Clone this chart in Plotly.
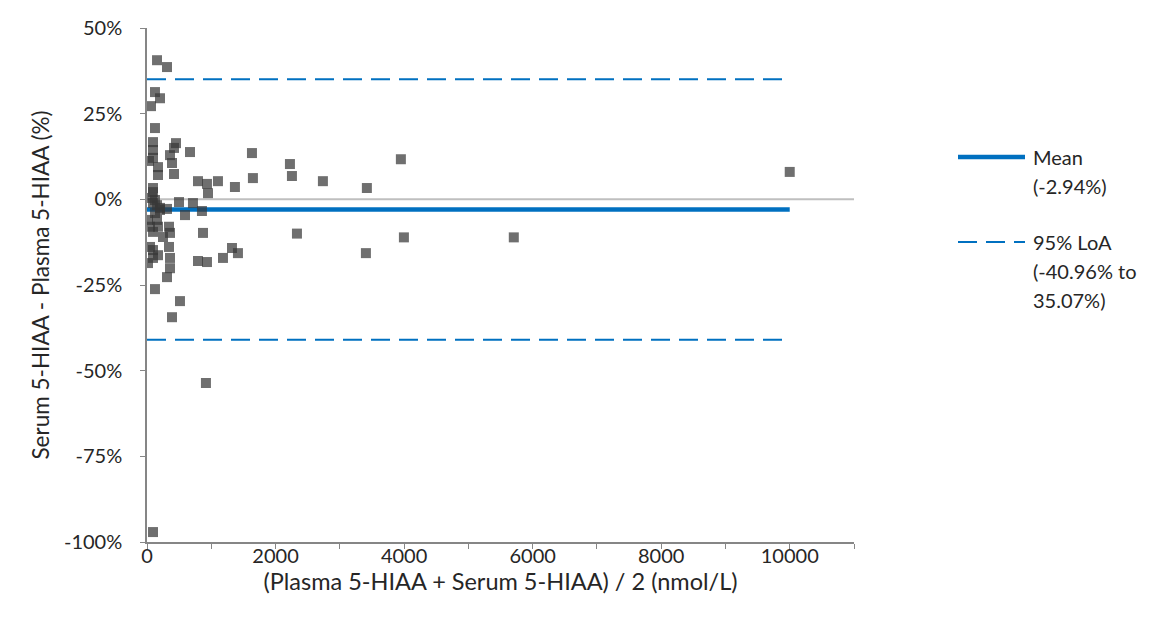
import plotly.graph_objects as go

# Bland-Altman data: mean of methods (nmol/L) and relative difference (%)
avg_nmol = [156, 311, 124, 202, 62, 124, 93, 451, 420, 93, 669, 358, 93, 31, 389, 171, 171, 420,
            793, 933, 1104, 949, 1368, 93, 93, 124, 156, 202, 311, 498, 715, 591, 855, 16, 156,
            47, 171, 342, 93, 358, 249, 871, 47, 93, 171, 342, 358, 93, 793, 933, 1182, 1322,
            1415, 16, 358, 311, 124, 513, 389, 917, 93, 1633, 2224, 1648, 2255, 2737, 3950,
            3421, 2333, 3406, 3997, 5707, 10000, 78, 93, 202, 124]
diff_pct = [40.6, 38.6, 31.3, 29.5, 27.2, 20.8, 16.7, 16.4, 15.0, 14.4, 13.8, 12.9, 12.1, 11.2,
            10.6, 9.4, 7.1, 7.4, 5.3, 4.5, 5.3, 1.8, 3.6, 3.3, 2.1, -0.2, -1.7, -3.1, -2.8, -0.8,
            -1.1, -4.6, -3.4, -6.0, -6.0, -8.0, -8.0, -8.0, -9.5, -9.8, -11.0, -9.8, -13.9,
            -14.8, -16.3, -13.9, -17.1, -17.1, -18.0, -18.3, -17.1, -14.2, -15.7, -18.6, -20.1,
            -22.7, -26.2, -29.7, -34.4, -53.6, -97.1, 13.5, 10.3, 6.2, 6.8, 5.3, 11.7, 3.3,
            -10.0, -15.7, -11.1, -11.1, 8.0, 0.4, -1.1, -2.5, -4.0]

line_x = [0, 10000]
mean_pct = -2.94
loa_upper = 35.07
loa_lower = -40.96
zero_x = [0, 11000]

y_ticks = [-100, -75, -50, -25, 0, 25, 50]
x_ticks = [0, 1000, 2000, 3000, 4000, 5000, 6000, 7000, 8000, 9000, 10000, 11000]
x_tick_text = ["0", "", "2000", "", "4000", "", "6000", "", "8000", "", "10000", ""]

legend_mean = ["Mean", "(-2.94%)"]
legend_loa = ["95% LoA", "(-40.96% to", "35.07%)"]

blue = "rgb(0,112,192)"
axis_grey = "rgb(134,134,134)"
text_col = "rgb(38,38,38)"
font_family = "Lato"
fs = 20

fig = go.Figure()

fig.add_trace(go.Scatter(x=zero_x, y=[0, 0], mode="lines",
                         line=dict(color="rgb(191,191,191)", width=2),
                         hoverinfo="skip", showlegend=False))
fig.add_trace(go.Scatter(x=line_x, y=[loa_upper, loa_upper], mode="lines",
                         line=dict(color=blue, width=2, dash="19px,9px"), showlegend=False))
fig.add_trace(go.Scatter(x=line_x, y=[loa_lower, loa_lower], mode="lines",
                         line=dict(color=blue, width=2, dash="19px,9px"), showlegend=False))
fig.add_trace(go.Scatter(x=line_x, y=[mean_pct, mean_pct], mode="lines",
                         line=dict(color=blue, width=4.5), showlegend=False))
fig.add_trace(go.Scatter(x=avg_nmol, y=diff_pct, mode="markers",
                         marker=dict(symbol="square", size=10, color="rgb(55,55,55)",
                                     opacity=0.72, line=dict(width=0)),
                         showlegend=False))

# Manual legend (paper coordinates of the plot area)
def px_to_paper_x(px):
    return (px - 147) / 707.0

def py_to_paper_y(py):
    return (542 - py) / 514.0

fig.add_shape(type="line", xref="paper", yref="paper",
              x0=px_to_paper_x(958), x1=px_to_paper_x(1025),
              y0=py_to_paper_y(157), y1=py_to_paper_y(157),
              line=dict(color=blue, width=4.5))
fig.add_shape(type="line", xref="paper", yref="paper",
              x0=px_to_paper_x(958), x1=px_to_paper_x(1025),
              y0=py_to_paper_y(242), y1=py_to_paper_y(242),
              line=dict(color=blue, width=2, dash="19px,9px"))

for i, t in enumerate(legend_mean):
    fig.add_annotation(xref="paper", yref="paper", x=px_to_paper_x(1031),
                       y=py_to_paper_y(157 + 29 * i), text=t, showarrow=False,
                       xanchor="left", yanchor="middle",
                       font=dict(family=font_family, size=fs, color=text_col))
for i, t in enumerate(legend_loa):
    fig.add_annotation(xref="paper", yref="paper", x=px_to_paper_x(1031),
                       y=py_to_paper_y(242 + 29 * i), text=t, showarrow=False,
                       xanchor="left", yanchor="middle",
                       font=dict(family=font_family, size=fs, color=text_col))

fig.update_layout(
    width=1158, height=643,
    margin=dict(l=147, r=304, t=28, b=101),
    paper_bgcolor="white", plot_bgcolor="white",
    font=dict(family=font_family, size=fs, color=text_col),
    xaxis=dict(range=[0, 11000], tickmode="array", tickvals=x_ticks, ticktext=x_tick_text,
               showgrid=False, zeroline=False, showline=True, linecolor=axis_grey,
               linewidth=1.5, ticks="outside", ticklen=5, tickcolor=axis_grey,
               tickfont=dict(family=font_family, size=fs, color=text_col),
               ticklabelstandoff=-10,
               title=dict(text="(Plasma 5-HIAA + Serum 5-HIAA) / 2 (nmol/L)", standoff=6,
                          font=dict(family=font_family, size=23.5, color=text_col)),
               fixedrange=True),
    yaxis=dict(range=[-100, 50], tickvals=y_ticks, ticktext=[f"{v}%" for v in y_ticks],
               showgrid=False, zeroline=False, showline=True, linecolor=axis_grey,
               linewidth=1.5, ticks="outside", ticklen=5, tickcolor=axis_grey,
               tickfont=dict(family=font_family, size=fs, color=text_col),
               ticklabelstandoff=14,
               title=dict(text="Serum 5-HIAA - Plasma 5-HIAA (%)", standoff=8,
                          font=dict(family=font_family, size=22.5, color=text_col)),
               fixedrange=True),
    showlegend=False,
)

fig.write_html("out.html")
